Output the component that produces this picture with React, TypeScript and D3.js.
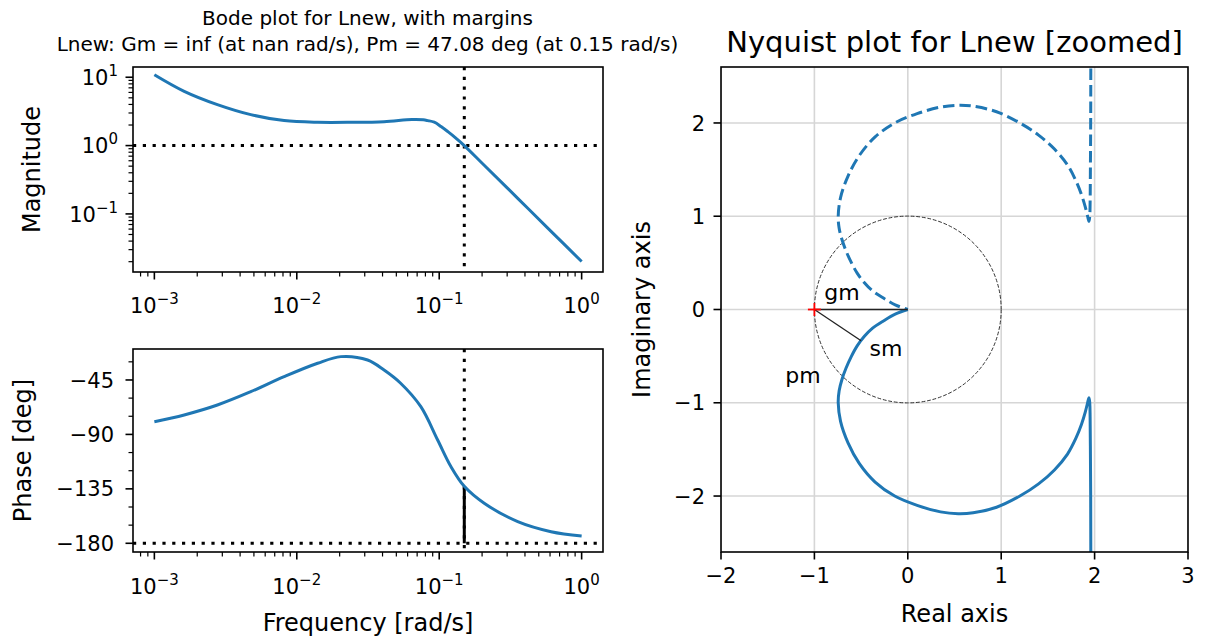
import React from 'react';
import * as d3 from 'd3';

const FONT = 'DejaVu Sans, Verdana, sans-serif';
const BLUE = '#1f77b4';

// ---------- Bode data ----------
const magFreq = [0.001, 0.00162, 0.00277, 0.00475, 0.00815, 0.014, 0.024, 0.041, 0.0644, 0.0773, 0.083, 0.0923, 0.103, 0.115, 0.129, 0.15, 0.207, 0.356, 0.61, 1.0];
const magValues = [10.9, 6.23, 3.98, 2.84, 2.32, 2.19, 2.19, 2.24, 2.40, 2.38, 2.32, 2.2, 1.9, 1.6, 1.32, 1.0, 0.515, 0.169, 0.0556, 0.0201];

const phaseFreq = [0.001, 0.00162, 0.00277, 0.00475, 0.00815, 0.014, 0.0204, 0.0314, 0.041, 0.0536, 0.0743, 0.0975, 0.121, 0.15, 0.207, 0.356, 0.61, 1.0];
const phaseValues = [-79.5, -73.9, -65.7, -54.7, -42.3, -31.2, -25.7, -28.5, -36.8, -47.7, -67.1, -94.6, -116.7, -132.9, -146.9, -162.1, -170.4, -174.0];

const crossoverFreq = 0.15;
const phaseAtCrossover = -132.92;
const freqTickExps = [-3, -2, -1, 0];
const magTickExps = [-1, 0, 1];
const phaseTicks = [-180, -135, -90, -45];
const phaseMinorTicks = [-165, -150, -120, -105, -75, -60, -30];

// ---------- Nyquist data (positive frequencies) ----------
const nyqReal = [1.962, 1.96, 1.958, 1.955, 1.952, 1.948, 1.94, 1.925, 1.90, 1.86, 1.80, 1.71, 1.57, 1.40, 1.20, 0.95, 0.70, 0.54, 0.35, 0.10, -0.14, -0.35, -0.52, -0.64, -0.72, -0.745, -0.735, -0.705, -0.662, -0.608, -0.542, -0.467, -0.377, -0.257, -0.135, 0];
const nyqImag = [-4.0, -3.0, -2.0, -1.5, -1.15, -1.0, -0.945, -1.0, -1.10, -1.23, -1.38, -1.55, -1.72, -1.87, -2.00, -2.12, -2.18, -2.19, -2.17, -2.10, -2.00, -1.85, -1.65, -1.43, -1.20, -1.0, -0.87, -0.75, -0.63, -0.51, -0.39, -0.29, -0.20, -0.12, -0.05, 0];
const smPoint = [-0.5, -0.335];
const nyqXTicks = [-2, -1, 0, 1, 2, 3];
const nyqYTicks = [-2, -1, 0, 1, 2];

// ---------- layout ----------
const MAG = { left: 133, right: 603, top: 67, bottom: 272 };
const PH = { left: 133, right: 603, top: 349, bottom: 552 };
const NY = { left: 721, right: 1188, top: 67, bottom: 552 };

const xF = d3.scaleLog().domain([10 ** -3.15, 10 ** 0.15]).range([MAG.left, MAG.right]);
const yM = d3.scaleLog().domain([10 ** -1.85, 10 ** 1.15]).range([MAG.bottom, MAG.top]);
const yP = d3.scaleLinear().domain([-187.2, -19.4]).range([PH.bottom, PH.top]);
const xN = d3.scaleLinear().domain([-2, 3]).range([NY.left, NY.right]);
const yN = d3.scaleLinear().domain([-2.6, 2.6]).range([NY.bottom, NY.top]);

const TICK = 21;
const LABEL = 24;

function minorLog(lo: number, hi: number) {
  const out: number[] = [];
  for (let k = Math.floor(Math.log10(lo)) - 1; k <= Math.ceil(Math.log10(hi)); k++) {
    for (let m = 2; m <= 9; m++) {
      const v = m * 10 ** k;
      if (v >= lo && v <= hi) out.push(v);
    }
  }
  return out;
}

const supText = (e: number) => (e < 0 ? '\u2212' + Math.abs(e) : String(e));

function Pow({ x, y, e, anchor }: { x: number; y: number; e: number; anchor: string }) {
  return (
    <text x={x} y={y} textAnchor={anchor} fontSize={TICK} fontFamily={FONT} fill="#000">
      10<tspan dy={-9} fontSize={15}>{supText(e)}</tspan>
    </text>
  );
}

function FreqAxis({ box, labelY }: { box: typeof MAG; labelY: number }) {
  const [lo, hi] = xF.domain();
  return (
    <g>
      {freqTickExps.map((e) => (
        <g key={e}>
          <line x1={xF(10 ** e)} x2={xF(10 ** e)} y1={box.bottom} y2={box.bottom + 7.5} stroke="#000" strokeWidth={1.6} />
          <Pow x={xF(10 ** e)} y={labelY} e={e} anchor="middle" />
        </g>
      ))}
      {minorLog(lo, hi).map((v, i) => (
        <line key={i} x1={xF(v)} x2={xF(v)} y1={box.bottom} y2={box.bottom + 4.5} stroke="#000" strokeWidth={1.2} />
      ))}
    </g>
  );
}

const dotted = { stroke: '#000', strokeWidth: 3, strokeDasharray: '3.2,6.6', fill: 'none' };

export default function App() {
  const smooth = d3.curveCatmullRom.alpha(0.5);
  const magLine = d3
    .line<number>()
    .x((_, i) => xF(magFreq[i]))
    .y((d) => yM(d))
    .curve(smooth)(magValues) as string;
  const phLine = d3
    .line<number>()
    .x((_, i) => xF(phaseFreq[i]))
    .y((d) => yP(d))
    .curve(smooth)(phaseValues) as string;

  const posPath = d3
    .line<number>()
    .curve(smooth)
    .x((_, i) => xN(nyqReal[i]))
    .y((d) => yN(d))(nyqImag) as string;
  const negPath = d3
    .line<number>()
    .curve(smooth)
    .x((_, i) => xN(nyqReal[i]))
    .y((d) => yN(-d))(nyqImag) as string;

  const [mLo, mHi] = yM.domain();
  const unitR = xN(1) - xN(0);

  return (
    <svg width={1209} height={639} style={{ display: 'block', position: 'absolute', left: 0, top: 0 }} fontFamily={FONT}>
      <rect x={0} y={0} width={1209} height={639} fill="#fff" />
      <defs>
        <clipPath id="cMag"><rect x={MAG.left} y={MAG.top} width={MAG.right - MAG.left} height={MAG.bottom - MAG.top} /></clipPath>
        <clipPath id="cPh"><rect x={PH.left} y={PH.top} width={PH.right - PH.left} height={PH.bottom - PH.top} /></clipPath>
        <clipPath id="cNy"><rect x={NY.left} y={NY.top} width={NY.right - NY.left} height={NY.bottom - NY.top} /></clipPath>
      </defs>

      {/* Bode titles */}
      <text x={367.5} y={25} textAnchor="middle" fontSize={20}>Bode plot for Lnew, with margins</text>
      <text x={367.5} y={51} textAnchor="middle" fontSize={20}>Lnew: Gm = inf (at nan rad/s), Pm = 47.08 deg (at 0.15 rad/s)</text>

      {/* Magnitude axes */}
      <g clipPath="url(#cMag)">
        <line x1={MAG.left} x2={MAG.right} y1={yM(1)} y2={yM(1)} {...dotted} />
        <line x1={xF(crossoverFreq)} x2={xF(crossoverFreq)} y1={MAG.top} y2={MAG.bottom} {...dotted} />
        <path d={magLine} fill="none" stroke={BLUE} strokeWidth={3} />
      </g>
      <rect x={MAG.left} y={MAG.top} width={MAG.right - MAG.left} height={MAG.bottom - MAG.top} fill="none" stroke="#000" strokeWidth={1.6} />
      {magTickExps.map((e) => (
        <g key={e}>
          <line x1={MAG.left - 7.5} x2={MAG.left} y1={yM(10 ** e)} y2={yM(10 ** e)} stroke="#000" strokeWidth={1.6} />
          <Pow x={118} y={yM(10 ** e) + 7.6} e={e} anchor="end" />
        </g>
      ))}
      {minorLog(mLo, mHi).map((v, i) => (
        <line key={i} x1={MAG.left - 4.5} x2={MAG.left} y1={yM(v)} y2={yM(v)} stroke="#000" strokeWidth={1.2} />
      ))}
      <FreqAxis box={MAG} labelY={313} />
      <text transform={`translate(40,${(MAG.top + MAG.bottom) / 2}) rotate(-90)`} textAnchor="middle" fontSize={LABEL}>Magnitude</text>

      {/* Phase axes */}
      <g clipPath="url(#cPh)">
        <line x1={PH.left} x2={PH.right} y1={yP(-180)} y2={yP(-180)} {...dotted} />
        <line x1={xF(crossoverFreq)} x2={xF(crossoverFreq)} y1={PH.top} y2={PH.bottom} {...dotted} />
        <line x1={xF(crossoverFreq)} x2={xF(crossoverFreq)} y1={yP(-180)} y2={yP(phaseAtCrossover)} stroke="#000" strokeWidth={3} />
        <path d={phLine} fill="none" stroke={BLUE} strokeWidth={3} />
      </g>
      <rect x={PH.left} y={PH.top} width={PH.right - PH.left} height={PH.bottom - PH.top} fill="none" stroke="#000" strokeWidth={1.6} />
      {phaseTicks.map((t) => (
        <g key={t}>
          <line x1={PH.left - 7.5} x2={PH.left} y1={yP(t)} y2={yP(t)} stroke="#000" strokeWidth={1.6} />
          <text x={114} y={yP(t) + 7.6} textAnchor="end" fontSize={TICK}>{'\u2212' + Math.abs(t)}</text>
        </g>
      ))}
      {phaseMinorTicks.map((t) => (
        <line key={t} x1={PH.left - 4.5} x2={PH.left} y1={yP(t)} y2={yP(t)} stroke="#000" strokeWidth={1.2} />
      ))}
      <FreqAxis box={PH} labelY={594} />
      <text transform={`translate(31,${(PH.top + PH.bottom) / 2}) rotate(-90)`} textAnchor="middle" fontSize={LABEL}>Phase [deg]</text>
      <text x={(PH.left + PH.right) / 2} y={631} textAnchor="middle" fontSize={LABEL}>Frequency [rad/s]</text>

      {/* Nyquist */}
      <text x={(NY.left + NY.right) / 2} y={52} textAnchor="middle" fontSize={29}>Nyquist plot for Lnew [zoomed]</text>
      <g clipPath="url(#cNy)">
        {nyqXTicks.map((t) => (
          <line key={'gx' + t} x1={xN(t)} x2={xN(t)} y1={NY.top} y2={NY.bottom} stroke="#d6d6d6" strokeWidth={1.6} />
        ))}
        {nyqYTicks.map((t) => (
          <line key={'gy' + t} x1={NY.left} x2={NY.right} y1={yN(t)} y2={yN(t)} stroke="#d6d6d6" strokeWidth={1.6} />
        ))}
        <circle cx={xN(0)} cy={yN(0)} r={unitR} fill="none" stroke="#333" strokeWidth={1} strokeDasharray="3.8,1.8" />
        <path d={negPath} fill="none" stroke={BLUE} strokeWidth={3} strokeDasharray="11.5,5" />
        <path d={posPath} fill="none" stroke={BLUE} strokeWidth={3} />
        <line x1={xN(-1)} y1={yN(0)} x2={xN(0)} y2={yN(0)} stroke="#222" strokeWidth={1.3} />
        <line x1={xN(-1)} y1={yN(0)} x2={xN(smPoint[0])} y2={yN(smPoint[1])} stroke="#222" strokeWidth={1.3} />
        <line x1={xN(-1) - 6.5} x2={xN(-1) + 6.5} y1={yN(0)} y2={yN(0)} stroke="red" strokeWidth={1.8} />
        <line x1={xN(-1)} x2={xN(-1)} y1={yN(0) - 6.5} y2={yN(0) + 6.5} stroke="red" strokeWidth={1.8} />
      </g>
      <text x={842} y={300} textAnchor="middle" fontSize={22}>gm</text>
      <text x={886} y={356} textAnchor="middle" fontSize={22}>sm</text>
      <text x={803} y={383} textAnchor="middle" fontSize={22}>pm</text>
      <rect x={NY.left} y={NY.top} width={NY.right - NY.left} height={NY.bottom - NY.top} fill="none" stroke="#000" strokeWidth={1.6} />
      {nyqXTicks.map((t) => (
        <g key={'tx' + t}>
          <line x1={xN(t)} x2={xN(t)} y1={NY.bottom} y2={NY.bottom + 7.5} stroke="#000" strokeWidth={1.6} />
          <text x={xN(t)} y={583} textAnchor="middle" fontSize={TICK}>{t < 0 ? '\u2212' + Math.abs(t) : String(t)}</text>
        </g>
      ))}
      {nyqYTicks.map((t) => (
        <g key={'ty' + t}>
          <line x1={NY.left - 7.5} x2={NY.left} y1={yN(t)} y2={yN(t)} stroke="#000" strokeWidth={1.6} />
          <text x={705} y={yN(t) + 7.6} textAnchor="end" fontSize={TICK}>{t < 0 ? '\u2212' + Math.abs(t) : String(t)}</text>
        </g>
      ))}
      <text x={(NY.left + NY.right) / 2} y={622} textAnchor="middle" fontSize={LABEL}>Real axis</text>
      <text transform={`translate(650,${(NY.top + NY.bottom) / 2}) rotate(-90)`} textAnchor="middle" fontSize={LABEL}>Imaginary axis</text>
    </svg>
  );
}
